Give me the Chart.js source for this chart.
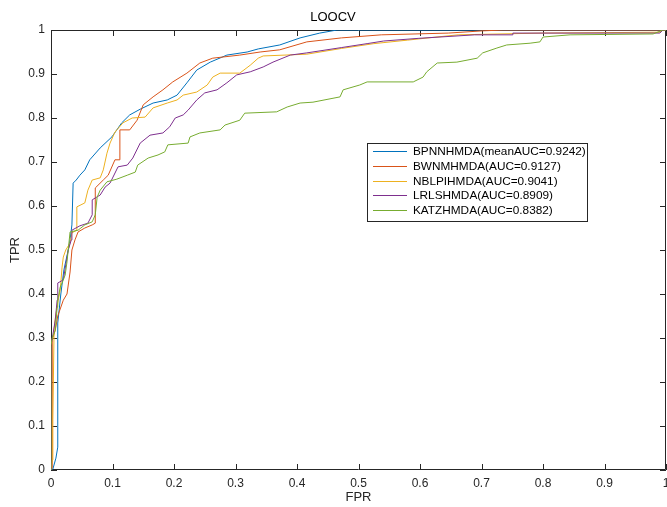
<!DOCTYPE html>
<html>
<head>
<meta charset="utf-8">
<script src="https://cdn.jsdelivr.net/npm/chart.js@4.4.0/dist/chart.umd.min.js"></script>
<style>
  html, body { margin: 0; padding: 0; background: #fff; }
  #wrap { width: 667px; height: 507px; }
</style>
</head>
<body>
<div id="wrap"><canvas id="roc"></canvas></div>
<script>
var bpnnFpr = [0,0.003,0.008,0.011,0.011,0.016,0.021,0.028,0.031,0.034,0.036,0.041,0.047,0.055,0.063,0.080,0.099,0.115,0.128,0.145,0.166,0.189,0.205,0.221,0.237,0.259,0.286,0.319,0.337,0.372,0.405,0.437,0.465,1];
var bpnnTpr = [0,0.002,0.027,0.052,0.334,0.400,0.455,0.500,0.523,0.557,0.652,0.659,0.670,0.682,0.705,0.732,0.757,0.789,0.807,0.820,0.834,0.841,0.852,0.880,0.909,0.927,0.943,0.950,0.957,0.966,0.982,0.993,1,1];

var bwnmFpr = [0,0.002,0.002,0.007,0.011,0.020,0.026,0.031,0.034,0.039,0.044,0.055,0.067,0.072,0.072,0.085,0.093,0.104,0.112,0.112,0.128,0.140,0.150,0.166,0.182,0.198,0.221,0.242,0.263,0.307,0.340,0.372,0.416,0.472,0.537,0.646,0.701,0.735,1];
var bwnmTpr = [0,0.005,0.295,0.318,0.350,0.386,0.400,0.450,0.500,0.523,0.541,0.550,0.557,0.561,0.641,0.659,0.670,0.705,0.705,0.773,0.773,0.795,0.830,0.848,0.864,0.882,0.902,0.925,0.936,0.943,0.950,0.955,0.973,0.982,0.989,0.993,0.998,1,1];

var nblpFpr = [0,0.002,0.003,0.005,0.007,0.011,0.015,0.018,0.020,0.024,0.031,0.034,0.042,0.042,0.055,0.060,0.067,0.080,0.085,0.091,0.096,0.104,0.117,0.132,0.153,0.166,0.189,0.205,0.215,0.237,0.254,0.263,0.275,0.307,0.324,0.337,0.345,0.416,0.472,0.525,0.580,0.613,0.662,0.798,0.990,0.995,1];
var nblpTpr = [0,0.023,0.114,0.318,0.345,0.380,0.409,0.461,0.484,0.500,0.516,0.539,0.545,0.598,0.607,0.636,0.659,0.664,0.682,0.720,0.743,0.768,0.789,0.800,0.802,0.823,0.834,0.841,0.852,0.859,0.875,0.893,0.902,0.902,0.920,0.936,0.941,0.945,0.958,0.969,0.977,0.982,0.989,0.993,0.995,1,1];

var lrlsFpr = [0,0,0.003,0.007,0.010,0.011,0.020,0.024,0.028,0.033,0.034,0.047,0.060,0.067,0.067,0.080,0.088,0.096,0.109,0.124,0.133,0.145,0.161,0.182,0.193,0.202,0.215,0.223,0.237,0.250,0.270,0.286,0.302,0.324,0.345,0.361,0.389,0.416,0.472,0.514,0.541,0.597,0.689,0.751,0.751,0.990,0.995,1];
var lrlsTpr = [0,0.284,0.307,0.341,0.386,0.425,0.432,0.466,0.500,0.523,0.545,0.555,0.561,0.580,0.614,0.625,0.643,0.652,0.689,0.693,0.709,0.743,0.761,0.766,0.780,0.800,0.807,0.818,0.841,0.857,0.864,0.880,0.898,0.905,0.916,0.927,0.943,0.948,0.960,0.969,0.975,0.981,0.989,0.989,0.993,0.993,1,1];

var katzFpr = [0,0,0.002,0.007,0.010,0.011,0.015,0.018,0.023,0.026,0.028,0.031,0.044,0.055,0.067,0.072,0.075,0.080,0.091,0.107,0.124,0.137,0.141,0.158,0.174,0.185,0.190,0.223,0.226,0.242,0.275,0.283,0.307,0.315,0.367,0.384,0.405,0.426,0.470,0.475,0.502,0.514,0.589,0.605,0.611,0.628,0.660,0.693,0.702,0.725,0.741,0.779,0.795,0.800,0.844,0.979,0.995,1];
var katzTpr = [0,0.284,0.300,0.318,0.370,0.386,0.416,0.425,0.443,0.473,0.500,0.541,0.545,0.557,0.564,0.580,0.620,0.636,0.655,0.661,0.670,0.677,0.693,0.709,0.716,0.723,0.739,0.743,0.757,0.766,0.773,0.784,0.795,0.811,0.814,0.825,0.834,0.836,0.848,0.864,0.875,0.882,0.882,0.893,0.905,0.925,0.927,0.936,0.948,0.959,0.966,0.970,0.973,0.984,0.989,0.991,1,1];

var seriesNames = ['BPNNHMDA(meanAUC=0.9242)','BWNMHMDA(AUC=0.9127)','NBLPIHMDA(AUC=0.9041)','LRLSHMDA(AUC=0.8909)','KATZHMDA(AUC=0.8382)'];
var seriesColors = ['#0072BD','#D95319','#EDB120','#7E2F8E','#77AC30'];
var tickLabels = ['0','0.1','0.2','0.3','0.4','0.5','0.6','0.7','0.8','0.9','1'];

function pts(xs, ys) {
  return xs.map(function(x, i) { return {x: x, y: ys[i]}; });
}

var allX = [bpnnFpr, bwnmFpr, nblpFpr, lrlsFpr, katzFpr];
var allY = [bpnnTpr, bwnmTpr, nblpTpr, lrlsTpr, katzTpr];

var datasets = seriesNames.map(function(name, i) {
  return {
    label: name,
    data: pts(allX[i], allY[i]),
    borderColor: seriesColors[i],
    backgroundColor: seriesColors[i],
    borderWidth: 1,
    pointRadius: 0,
    showLine: true,
    fill: false,
    order: 5 - i   // comme matlab : la derniere courbe dessus
  };
});

var axisColor = '#262626';
var fontFam = '"Liberation Sans", Arial, sans-serif';

// cadre et graduations vers l'interieur, facon matlab
var boxPlugin = {
  id: 'matlabBox',
  beforeDatasetsDraw: function(chart) {
    var c = chart.ctx, a = chart.chartArea;
    var xs = chart.scales.x, ys = chart.scales.y;
    c.save();
    c.strokeStyle = axisColor;
    c.lineWidth = 1;
    c.beginPath();
    c.rect(a.left + 0.5, a.top + 0.5, a.right - a.left - 1, a.bottom - a.top - 1);
    for (var i = 0; i < tickLabels.length; i++) {
      var v = i / 10;
      var px = Math.round(xs.getPixelForValue(v)) + 0.5;
      c.moveTo(px, a.bottom); c.lineTo(px, a.bottom - 6);
      c.moveTo(px, a.top); c.lineTo(px, a.top + 6);
      var py = Math.round(ys.getPixelForValue(v)) + 0.5;
      c.moveTo(a.left, py); c.lineTo(a.left + 6, py);
      c.moveTo(a.right, py); c.lineTo(a.right - 6, py);
    }
    c.stroke();
    c.restore();
  },
  afterDraw: function(chart) {
    // legende dans le graphe
    var c = chart.ctx;
    var bx = 367.5, by = 143.5, bw = 220, bh = 78;
    c.save();
    c.fillStyle = '#fff';
    c.fillRect(bx, by, bw, bh);
    c.strokeStyle = axisColor;
    c.lineWidth = 1;
    c.strokeRect(bx, by, bw, bh);
    c.font = '11.8px ' + fontFam;
    c.textBaseline = 'middle';
    c.textAlign = 'left';
    chart.data.datasets.forEach(function(ds, i) {
      var yy = Math.round(151 + i * 14.75) + 0.5;
      c.strokeStyle = ds.borderColor;
      c.beginPath();
      c.moveTo(373, yy); c.lineTo(407, yy);
      c.stroke();
      c.fillStyle = '#000';
      c.fillText(ds.label, 413, yy);
    });
    c.restore();
  }
};

var ctx = document.getElementById('roc').getContext('2d');
new Chart(ctx, {
  type: 'scatter',
  data: { datasets: datasets },
  options: {
    responsive: true,
    maintainAspectRatio: false,
    animation: false,
    layout: { padding: { left: 0, right: 1, top: 0, bottom: 0 } },
    plugins: {
      legend: { display: false },
      tooltip: { enabled: false },
      title: {
        display: true,
        text: 'LOOCV',
        color: '#000',
        font: { family: fontFam, size: 13, weight: 'normal' },
        padding: { top: 9.4, bottom: 5 }
      }
    },
    scales: {
      x: {
        type: 'linear', min: 0, max: 1,
        grid: { display: false, drawTicks: false },
        border: { display: false },
        ticks: {
          stepSize: 0.1, color: axisColor, padding: 6, maxRotation: 0, autoSkip: false,
          font: { family: fontFam, size: 12 },
          callback: function(v, i) { return tickLabels[i]; }
        },
        title: { display: true, text: 'FPR', color: axisColor, font: { family: fontFam, size: 13 }, padding: { top: 0, bottom: 2.2 } },
        afterFit: function(s) { s.height = 37; s.paddingLeft = 0; s.paddingRight = 0; }
      },
      y: {
        type: 'linear', min: 0, max: 1,
        grid: { display: false, drawTicks: false },
        border: { display: false },
        ticks: {
          stepSize: 0.1, color: axisColor, padding: 6, autoSkip: false,
          font: { family: fontFam, size: 12 },
          callback: function(v, i) { return tickLabels[i]; }
        },
        title: { display: true, text: 'TPR', color: axisColor, font: { family: fontFam, size: 13 }, padding: { top: 7.2, bottom: 0 } },
        afterFit: function(s) { s.width = 51; s.paddingTop = 0; s.paddingBottom = 0; }
      }
    }
  },
  plugins: [boxPlugin]
});
</script>
</body>
</html>
